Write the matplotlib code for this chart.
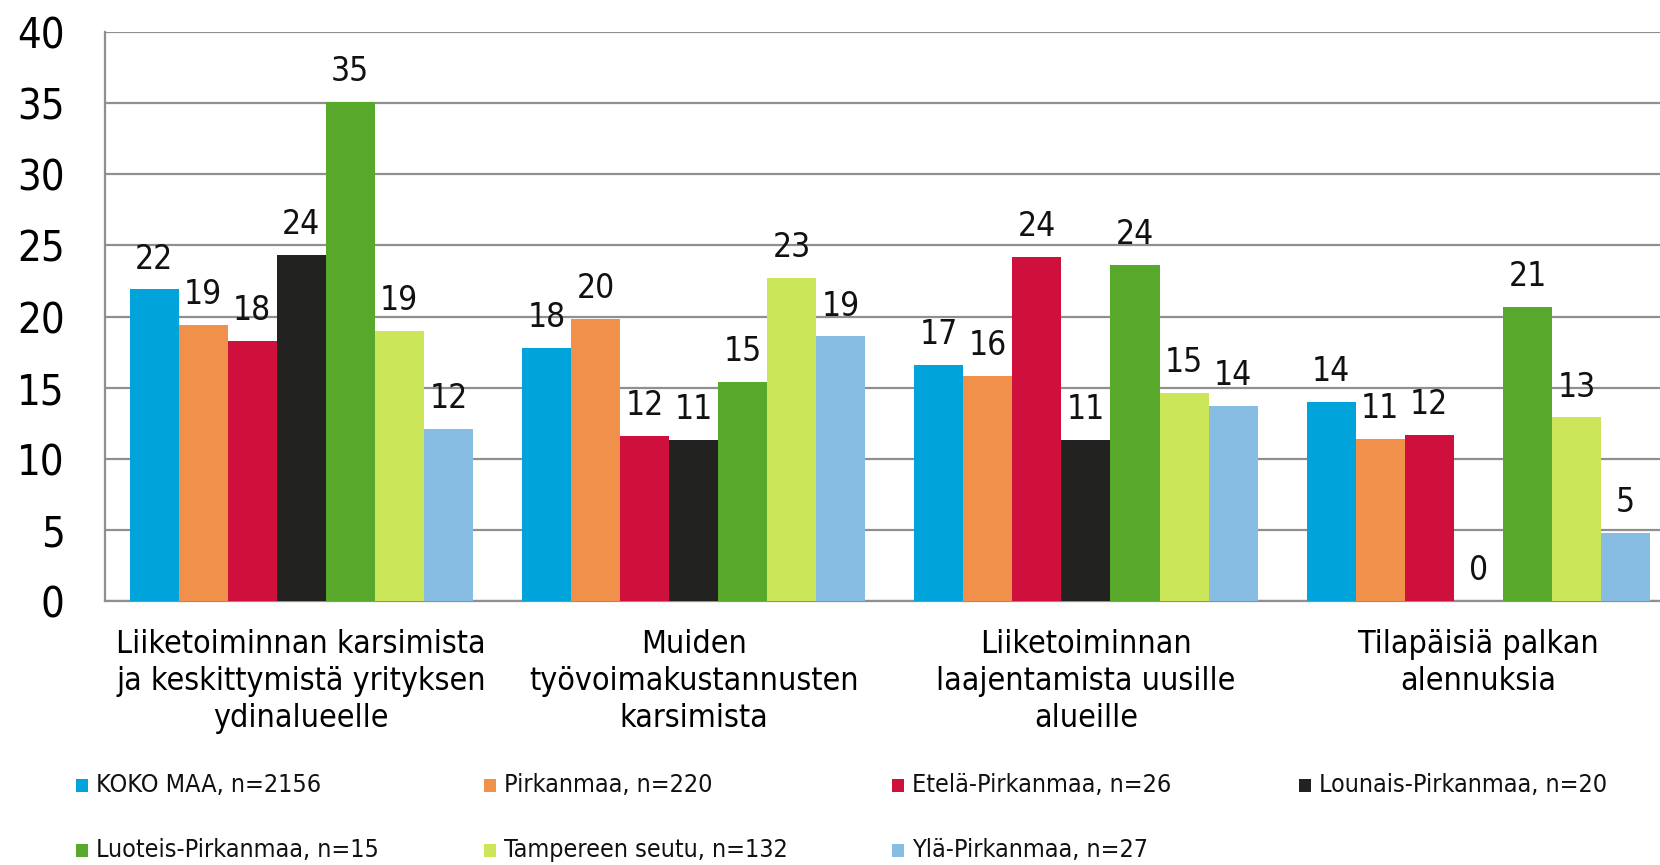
import matplotlib
matplotlib.use("Agg")
import matplotlib.pyplot as plt
from matplotlib.patches import Rectangle
import numpy as np

categories = [
    "Liiketoiminnan karsimista\nja keskittymistä yrityksen\nydinalueelle",
    "Muiden\ntyövoimakustannusten\nkarsimista",
    "Liiketoiminnan\nlaajentamista uusille\nalueille",
    "Tilapäisiä palkan\nalennuksia",
]
series_names = [
    "KOKO MAA, n=2156",
    "Pirkanmaa, n=220",
    "Etelä-Pirkanmaa, n=26",
    "Lounais-Pirkanmaa, n=20",
    "Luoteis-Pirkanmaa, n=15",
    "Tampereen seutu, n=132",
    "Ylä-Pirkanmaa, n=27",
]
koko_maa = [21.9, 17.8, 16.6, 14.0]
pirkanmaa = [19.4, 19.8, 15.8, 11.4]
etela = [18.3, 11.6, 24.2, 11.7]
lounais = [24.3, 11.3, 11.3, 0.0]
luoteis = [35.1, 15.4, 23.6, 20.7]
tampere = [19.0, 22.7, 14.6, 12.9]
yla = [12.1, 18.6, 13.7, 4.8]
series_values = [koko_maa, pirkanmaa, etela, lounais, luoteis, tampere, yla]
colors = ["#00A3DA", "#F0904A", "#CF0F3C", "#222221", "#58A82B", "#CCE65A", "#87BDE3"]
yticks = [0, 5, 10, 15, 20, 25, 30, 35, 40]

FONT = dict(family="DejaVu Sans", fontstretch="condensed")

fig = plt.figure(figsize=(16.6, 8.65), dpi=100)
ax = fig.add_axes([105 / 1660, 264 / 865, 1 - 105 / 1660, 569 / 865])

x = np.arange(len(categories))
width = 0.125
n = len(series_values)
for i, (vals, col, name) in enumerate(zip(series_values, colors, series_names)):
    offs = (i - (n - 1) / 2) * width
    bars = ax.bar(x + offs, vals, width, color=col, label=name, zorder=3)
    labels = ax.bar_label(bars, fmt="%.0f", padding=10, fontsize=24, color="#111111")
    for t in labels:
        t.set_fontstretch("condensed")

ax.set_ylim(0, 40)
ax.set_xlim(-0.5, 3.463)
ax.set_yticks(yticks)
ax.set_yticklabels([str(v) for v in yticks], fontsize=30, **FONT)
ax.set_xticks(x)
ax.set_xticklabels(categories, fontsize=23, linespacing=1.26, **FONT)
ax.tick_params(axis="y", length=0, pad=29)
ax.tick_params(axis="x", length=0, pad=20)
ax.yaxis.grid(True, color="#8f8f8f", linewidth=1.6, zorder=0)
ax.set_axisbelow(True)
for s in ["top", "right"]:
    ax.spines[s].set_visible(False)
for s in ["left", "bottom"]:
    ax.spines[s].set_color("#8f8f8f")
    ax.spines[s].set_linewidth(1.6)

# legend
col_x = [76, 484, 892, 1299]
row_y = [785, 850]
for i, (name, col) in enumerate(zip(series_names, colors)):
    r, c = divmod(i, 4)
    px = col_x[c] / 1660
    py = 1 - row_y[r] / 865
    fig.add_artist(Rectangle((px, py - 6.5 / 865), 12 / 1660, 13 / 865,
                             transform=fig.transFigure, color=col, lw=0))
    fig.text(px + 20 / 1660, py, name, fontsize=18, va="center", ha="left",
             color="#111111", **FONT)

fig.savefig("out.png", dpi=100)
